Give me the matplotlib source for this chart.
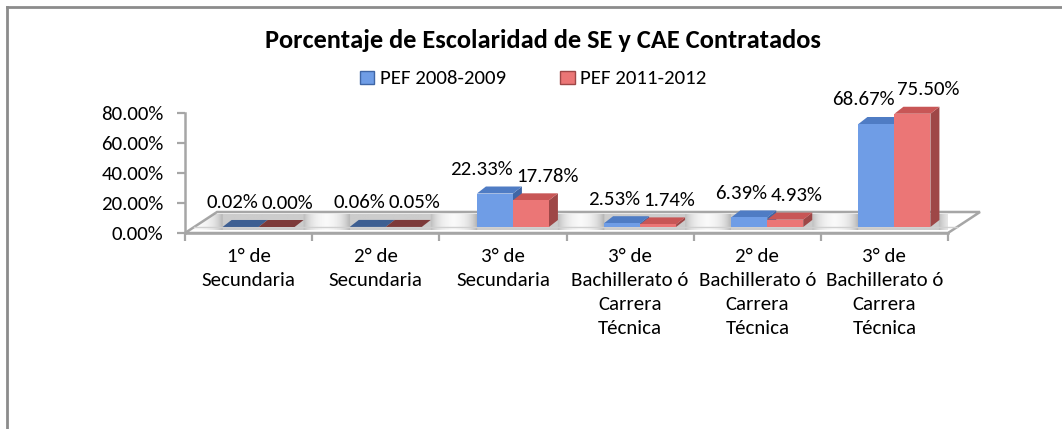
import matplotlib
matplotlib.use("Agg")
import numpy as np
import matplotlib.pyplot as plt
from matplotlib.patches import Polygon, Patch
from matplotlib.lines import Line2D
from matplotlib import font_manager as fm

# ---------------- data ----------------
categories = ["1° de\nSecundaria", "2° de\nSecundaria", "3° de\nSecundaria",
              "3° de\nBachillerato ó\nCarrera\nTécnica",
              "2° de\nBachillerato ó\nCarrera\nTécnica",
              "3° de\nBachillerato ó\nCarrera\nTécnica"]
series_names = ["PEF 2008-2009", "PEF 2011-2012"]
pef_2008_2009 = [0.02, 0.06, 22.33, 2.53, 6.39, 68.67]
pef_2011_2012 = [0.00, 0.05, 17.78, 1.74, 4.93, 75.50]
y_ticks = [0, 20, 40, 60, 80]
title = "Porcentaje de Escolaridad de SE y CAE Contratados"

avail = {f.name for f in fm.fontManager.ttflist}
fam = [f for f in ["Carlito", "Lato", "DejaVu Sans"] if f in avail]
plt.rcParams["font.family"] = fam

W, H = 1062, 429
fig = plt.figure(figsize=(W / 100, H / 100), dpi=100)
fig.patch.set_facecolor("white")

ax_l, ax_r, ax_b, ax_t = 185, 948, 233, 113
ax = fig.add_axes([ax_l / W, 1 - ax_b / H, (ax_r - ax_l) / W, (ax_b - ax_t) / H])
n = len(categories)

CAT_PX = (ax_r - ax_l) / n
PCT_PX = (ax_b - ax_t) / 80.0

bar_w = 36 / CAT_PX
shift_x = 10 / CAT_PX
base_y = 6 / PCT_PX
ddx = 9 / CAT_PX
ddy = 7 / PCT_PX
floor_dx = 32 / CAT_PX
floor_dy = 21 / PCT_PX

edge_gray = "#a6a6a6"

# floor
floor = Polygon([(-0.5, 0), (n - 0.5, 0), (n - 0.5 + floor_dx, floor_dy),
                 (-0.5 + floor_dx, floor_dy)], closed=True,
                facecolor="white", edgecolor=edge_gray, lw=1.8, zorder=1,
                clip_on=False)
ax.add_patch(floor)

# soft shadows on the floor around each bar pair
xs = np.linspace(-0.5, n - 0.5 + floor_dx, 1200)
alpha = np.zeros_like(xs)
sig = 9 / CAT_PX
for i in range(n):
    L = i + shift_x - bar_w
    R = i + shift_x + bar_w + ddx
    dl = np.clip(L - xs, 0, None)
    dr = np.clip(xs - R, 0, None)
    a = np.where(xs < L, 0.75 * np.exp(-dl / sig), 0.0)
    a = np.where(xs > R, 0.65 * np.exp(-dr / sig), a)
    a = np.where((xs >= L) & (xs <= R), 0.5, a)
    alpha = np.maximum(alpha, a)
img = np.zeros((2, xs.size, 4))
img[..., 0:3] = 0.6
img[..., 3] = alpha[None, :]
im = ax.imshow(img, extent=(-0.5, n - 0.5 + floor_dx, base_y * 0.5, floor_dy * 0.9),
               aspect="auto", origin="lower", interpolation="bilinear", zorder=1.5)
im.set_clip_path(floor)
im.set_clip_box(None)

# front lip of floor
ax.plot([-0.5 + floor_dx * base_y / floor_dy, n - 0.5 + floor_dx * base_y / floor_dy],
        [base_y, base_y], color="#d0d0d0", lw=1.0, zorder=1.6, clip_on=False)

colors = [
    {"front": "#6f9de6", "top": "#4f7cc4", "side": "#3f66a6", "flat": "#3e5f92"},
    {"front": "#eb7676", "top": "#c85656", "side": "#9e4747", "flat": "#7d3a3a"},
]
series = [pef_2008_2009, pef_2011_2012]

z = 3
for i in range(n):
    pair_c = i + shift_x
    for s, vals in enumerate(series):
        v = vals[i]
        c = colors[s]
        x0 = i + shift_x - bar_w + s * bar_w
        x1 = x0 + bar_w
        y0 = base_y
        y1 = base_y + v
        top_col = c["top"] if v > 1.0 else c["flat"]
        side = Polygon([(x1, y0), (x1 + ddx, y0 + ddy), (x1 + ddx, y1 + ddy), (x1, y1)],
                       closed=True, facecolor=c["side"], edgecolor="none",
                       zorder=z, clip_on=False)
        top = Polygon([(x0, y1), (x1, y1), (x1 + ddx, y1 + ddy), (x0 + ddx, y1 + ddy)],
                      closed=True, facecolor=top_col, edgecolor="none",
                      zorder=z, clip_on=False)
        ax.add_patch(side)
        ax.add_patch(top)
        ax.bar(x0, v, width=bar_w, bottom=y0, align="edge", color=c["front"],
               edgecolor="none", zorder=z + 0.5, clip_on=False)
        z += 1
        # data label
        lab_y = y1 + ddy + 17 / PCT_PX
        if s == 0:
            ax.text(pair_c, lab_y, f"{v:.2f}%", ha="right", va="center",
                    fontsize=15, color="black", zorder=20, clip_on=False)
        else:
            ax.text(pair_c + 3 / CAT_PX, lab_y, f"{v:.2f}%", ha="left", va="center",
                    fontsize=15, color="black", zorder=20, clip_on=False)

ax.set_xlim(-0.5, n - 0.5)
ax.set_ylim(0, 80)

# axes styling
for sp in ["top", "right"]:
    ax.spines[sp].set_visible(False)
for sp in ["left", "bottom"]:
    ax.spines[sp].set_color(edge_gray)
    ax.spines[sp].set_linewidth(1.8)
    ax.spines[sp].set_zorder(2)
ax.patch.set_alpha(0)

ax.set_yticks(y_ticks)
ax.set_yticklabels([f"{t:.2f}%" for t in y_ticks], fontsize=15)
ax.tick_params(axis="y", length=6, width=1.6, color=edge_gray, pad=9.4)

ax.set_xticks([k - 0.5 for k in range(n + 1)])
ax.set_xticklabels([])
ax.set_xticks(range(n), minor=True)
ax.set_xticklabels(categories, minor=True, fontsize=15, linespacing=1.5)
ax.tick_params(axis="x", which="major", length=6, width=1.6, color=edge_gray)
ax.tick_params(axis="x", which="minor", length=0, pad=11)

# title
fig.text(543 / W, 1 - 41 / H, title, ha="center", va="center",
         fontsize=19, fontweight="bold", color="black")

# legend
handles = [Patch(facecolor=colors[0]["front"], edgecolor=colors[0]["side"]),
           Patch(facecolor=colors[1]["front"], edgecolor=colors[1]["side"])]
fig.legend(handles, series_names, loc="center", bbox_to_anchor=(533 / W, 1 - 79 / H),
           ncol=2, frameon=False, fontsize=15, handlelength=0.7, handleheight=0.6,
           handletextpad=0.25, columnspacing=2.6)

# chart border (top and left visible)
fig.add_artist(Line2D([7 / W, 7 / W], [0, 1 - 7 / H], color="#8c8c8c", lw=2,
                      transform=fig.transFigure))
fig.add_artist(Line2D([7 / W, 1], [1 - 7 / H, 1 - 7 / H], color="#8c8c8c", lw=2,
                      transform=fig.transFigure))

fig.savefig("out.png", dpi=100, facecolor="white")
